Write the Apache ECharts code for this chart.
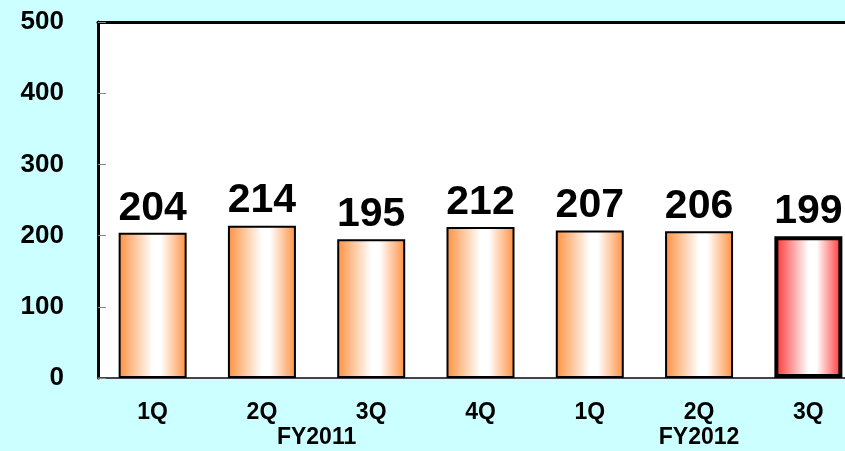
<!DOCTYPE html>
<html>
<head>
<meta charset="utf-8">
<script src="https://cdn.jsdelivr.net/npm/echarts@6/dist/echarts.min.js"></script>
<style>
  html, body { margin: 0; padding: 0; background: #CCFFFF; overflow: hidden; }
  /* the plot runs slightly past the right edge of the 845px view */
  #chart { width: 863px; height: 451px; }
</style>
</head>
<body>
<div id="chart"></div>
<script>
// Quarterly figures, FY2011 1Q through FY2012 3Q
const quarters = ['1Q', '2Q', '3Q', '4Q', '1Q', '2Q', '3Q'];
const values = [204, 214, 195, 212, 207, 206, 199];
// Fiscal-year groups: label plus first/last category index
const fiscalYears = ['FY2011', 'FY2012'];
const fiscalYearSpans = [[0, 3], [4, 6]];
const yTicks = [0, 100, 200, 300, 400, 500];

const highlightIndex = values.length - 1;

function barGradient(edge) {
  return new echarts.graphic.LinearGradient(0, 0, 1, 0, [
    { offset: 0, color: edge },
    { offset: 0.5, color: '#FFFFFF' },
    { offset: 0.62, color: '#FFFFFF' },
    { offset: 1, color: edge }
  ]);
}

const barData = values.map((v, i) => {
  const last = i === highlightIndex;
  return {
    value: v,
    itemStyle: {
      color: barGradient(last ? '#FF2E2E' : '#FF9040'),
      borderColor: '#000',
      borderWidth: last ? 4 : 2
    }
  };
});

const chart = echarts.init(document.getElementById('chart'));

chart.setOption({
  backgroundColor: '#CCFFFF',
  animation: false,
  grid: {
    left: 98, top: 22, bottom: 73, right: 0,
    show: true, backgroundColor: '#FFFFFF', borderWidth: 0
  },
  xAxis: [{
    type: 'category',
    data: quarters,
    axisLine: { show: true, lineStyle: { color: '#444', width: 2 } },
    axisTick: { show: false },
    axisLabel: {
      color: '#000', fontFamily: 'Liberation Sans, Arial, sans-serif',
      fontWeight: 'bold', fontSize: 23, margin: 23
    }
  }, {
    type: 'category',
    position: 'top',
    data: quarters,
    axisLine: { show: true, lineStyle: { color: '#000', width: 3 } },
    axisTick: { show: false },
    axisLabel: { show: false }
  }],
  yAxis: {
    type: 'value',
    min: yTicks[0],
    max: yTicks[yTicks.length - 1],
    interval: 100,
    axisLine: { show: true, lineStyle: { color: '#000', width: 3 } },
    axisTick: { show: true, inside: true, length: 8, lineStyle: { color: '#888', width: 1 } },
    splitLine: { show: false },
    axisLabel: {
      color: '#000', fontFamily: 'Liberation Sans, Arial, sans-serif',
      fontWeight: 'bold', fontSize: 26, margin: 34
    }
  },
  series: [{
    type: 'bar',
    data: barData,
    barWidth: 68,
    label: {
      show: true,
      position: 'top',
      distance: 4,
      color: '#000',
      fontFamily: 'Liberation Sans, Arial, sans-serif',
      fontWeight: 'bold',
      fontSize: 41
    }
  }]
});

// Fiscal-year captions centred under each group of quarters
const fyGraphics = fiscalYears.map((name, k) => {
  const [a, b] = fiscalYearSpans[k];
  const xa = chart.convertToPixel({ xAxisIndex: 0 }, a);
  const xb = chart.convertToPixel({ xAxisIndex: 0 }, b);
  return {
    type: 'text',
    x: (xa + xb) / 2,
    y: 438,
    style: {
      text: name,
      fill: '#000',
      font: 'bold 23px "Liberation Sans", Arial, sans-serif',
      align: 'center',
      verticalAlign: 'middle'
    }
  };
});
chart.setOption({ graphic: fyGraphics });
</script>
</body>
</html>
